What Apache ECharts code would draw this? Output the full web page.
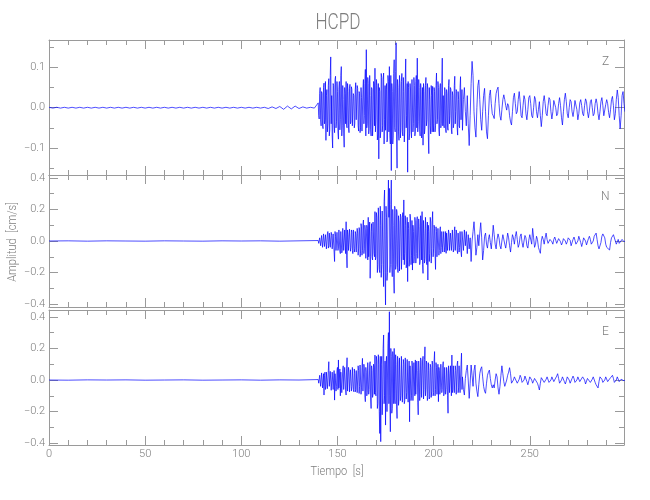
<!DOCTYPE html>
<html><head><meta charset="utf-8">
<script src="https://cdn.jsdelivr.net/npm/echarts@6/dist/echarts.min.js"></script>
<style>html,body{margin:0;padding:0;background:#fff}#c{width:650px;height:500px}</style>
</head><body><div id="c"></div><script>
const title = 'HCPD';
const xLabel = 'Tiempo  [s]';
const yLabel = 'Amplitud  [cm/s]';
const components = ['Z', 'N', 'E'];
const xMajorTicks = [0, 50, 100, 150, 200, 250];
const xMinorTicks = [10,20,30,40,60,70,80,90,110,120,130,140,160,170,180,190,210,220,230,240,260,270,280,290];
const zMajorTicks = [-0.1, 0, 0.1];
const zMinorTicks = [-0.15, -0.05, 0.05, 0.15];
const nMajorTicks = [-0.4, -0.2, 0, 0.2, 0.4];
const nMinorTicks = [-0.3, -0.1, 0.1, 0.3];
const eMajorTicks = [-0.4, -0.2, 0, 0.2, 0.4];
const eMinorTicks = [-0.3, -0.1, 0.1, 0.3];

const zPreStart = 0, zPreStep = 2;
const nePreStart = 0, nePreStep = 10;
const mainStart = 140, mainStep = 0.5;
const midStart = 140.25, midStep = 0.5;

// Z component, cm/s
const zPre = [0.001,-0.001,0.001,-0.001,0.001,-0.001,0.001,-0.001,0.001,-0.001,
0.001,-0.001,0.001,-0.001,0.001,-0.001,0.001,-0.001,0.001,-0.001,
0.001,-0.001,0.001,-0.001,0.001,-0.001,0.001,-0.001,0.001,-0.001,
0.001,-0.001,0.001,-0.001,0.001,-0.001,0.001,-0.001,0.001,-0.001,
0.001,-0.001,0.001,-0.001,0.001,-0.001,0.001,-0.001,0.001,-0.001,
0.001,-0.001,0.001,-0.001,0.001,-0.001,0.001,-0.002,0.002,-0.002,
0.003,-0.004,0.004,-0.003,0.004,-0.002,0.002,-0.001,0.001,-0.001];
const zMain = [
0.012,-0.028,0.050,-0.045,0.035,-0.052,0.061,-0.030,-0.081,0.045,-0.040,0.072,-0.055,0.126,0.030,-0.100,0.055,-0.062,0.078,-0.035,
0.040,-0.078,0.065,-0.030,0.102,-0.045,0.020,-0.098,0.035,0.065,-0.050,0.040,-0.062,0.058,-0.035,0.045,-0.048,0.030,-0.040,0.062,
-0.030,0.048,-0.058,0.035,-0.050,0.025,-0.055,0.070,-0.020,0.095,0.144,-0.040,0.060,-0.052,0.030,-0.070,0.045,-0.038,0.060,0.098,
-0.030,0.055,-0.065,-0.127,0.040,-0.060,0.075,-0.045,0.086,-0.030,-0.056,0.060,-0.080,0.065,0.102,-0.090,-0.156,0.040,-0.070,0.119,
-0.060,0.161,-0.150,0.050,-0.081,0.060,-0.050,0.085,-0.070,0.040,-0.055,0.121,-0.020,-0.160,0.050,-0.065,0.044,-0.075,0.070,-0.040,
0.055,-0.060,0.080,0.123,-0.035,0.050,-0.070,0.045,-0.060,-0.093,0.040,-0.050,0.075,-0.030,0.045,-0.114,0.020,-0.065,0.030,0.053,
-0.060,0.040,-0.045,0.086,-0.030,0.050,-0.070,0.060,-0.040,0.123,0.030,-0.050,0.040,-0.062,0.035,-0.056,0.070,-0.020,0.045,-0.065,
0.030,-0.040,0.078,-0.010,0.040,-0.068,0.020,-0.050,0.077,-0.030,-0.056,0.020,0.050,-0.010,-0.045,0.030,-0.040,-0.094,-0.020,0.060,
0.115,0.080,-0.010,-0.050,-0.073,0.000,0.055,0.069,0.020,-0.030,-0.056,-0.010,0.030,0.048,-0.010,-0.060,-0.077,-0.020,0.030,0.044,
0.010,-0.015,-0.020,-0.027,0.010,0.035,0.045,0.051,0.010,-0.020,-0.031,-0.005,0.020,0.032,0.020,0.005,-0.006,0.010,0.005,-0.020,
-0.035,-0.043,-0.010,0.025,0.036,0.010,-0.015,-0.010,0.020,0.040,0.015,-0.020,-0.025,0.005,0.030,0.020,-0.015,-0.030,-0.005,0.025,
0.030,0.010,-0.020,-0.025,0.000,0.028,0.020,-0.010,-0.025,-0.005,0.015,-0.020,-0.047,-0.020,0.015,0.030,0.010,-0.015,-0.020,0.005,
0.025,0.020,-0.010,-0.028,-0.010,0.018,0.022,0.000,-0.020,-0.015,0.010,0.025,0.005,-0.025,-0.043,-0.010,0.020,0.036,0.015,-0.015,
-0.025,0.000,0.020,0.015,-0.010,-0.022,-0.005,0.018,0.020,-0.005,-0.030,-0.015,0.012,0.020,0.005,-0.015,-0.020,0.005,0.022,0.015,
-0.010,-0.025,-0.008,0.015,0.020,0.000,-0.020,-0.015,0.010,0.022,0.010,-0.015,-0.030,-0.010,0.015,0.025,0.005,-0.020,-0.018,0.008,
0.020,0.010,-0.012,-0.025,-0.005,0.020,0.028,0.005,-0.030,-0.015,0.020,0.044,0.025,-0.020,-0.052,-0.020,0.030,0.040,0.010,-0.010];
const zMid = [
-0.020,0.035,-0.030,0.040,-0.045,0.050,-0.040,0.065,0.030,-0.060,0.055,-0.070,0.080,-0.040,-0.070,0.060,-0.045,0.070,-0.050,0.065,
-0.060,0.045,-0.055,0.080,-0.070,0.055,-0.065,0.050,-0.040,-0.045,0.060,-0.050,0.048,-0.040,0.052,-0.045,0.035,-0.050,0.045,-0.030,
0.055,-0.045,0.040,-0.062,0.050,-0.058,0.045,-0.040,0.060,-0.070,-0.050,0.075,-0.065,0.080,-0.055,0.050,-0.070,0.065,-0.045,-0.060,
0.070,-0.080,0.060,0.050,-0.075,0.085,-0.060,0.070,-0.090,0.055,0.045,-0.085,0.080,-0.060,-0.070,0.080,0.060,-0.090,0.085,-0.050,
0.090,-0.080,0.070,-0.060,0.080,-0.075,0.065,-0.060,0.075,-0.085,0.070,-0.050,0.060,0.065,-0.080,0.060,-0.055,0.070,-0.060,0.075,
-0.070,0.065,-0.050,-0.060,0.070,-0.055,0.060,-0.075,0.050,0.060,-0.065,0.055,-0.045,0.060,-0.070,0.050,-0.045,0.055,-0.060,-0.040,
0.050,-0.060,0.055,-0.040,0.065,-0.055,0.045,-0.050,0.060,-0.045,-0.040,0.050,-0.055,0.045,-0.050,0.055,-0.040,0.050,-0.055,0.040,
-0.050,0.055,-0.040,0.045,-0.050,0.040,-0.045,0.050,-0.030,0.045];

// N component, cm/s
const nPre = [0,0.001,-0.001,0.001,0,-0.001,0.001,0,-0.001,0.001,0,0.001,-0.001,0.001];
const nMain = [
0.003,-0.020,0.030,-0.025,0.040,-0.035,0.055,-0.045,0.030,-0.057,0.060,-0.030,0.045,-0.050,0.035,-0.060,0.040,-0.130,0.030,-0.050,
0.060,-0.045,0.070,-0.080,0.050,-0.060,0.085,-0.050,0.060,0.122,-0.170,0.040,-0.070,0.065,-0.040,0.055,-0.080,0.060,-0.050,0.045,
-0.060,0.050,-0.045,0.070,-0.080,0.090,-0.060,0.133,-0.050,0.070,-0.120,0.080,0.150,-0.090,-0.236,0.060,-0.100,0.120,-0.080,0.186,
-0.100,0.150,-0.150,0.120,-0.200,0.100,-0.150,0.200,-0.289,0.323,-0.405,0.150,-0.200,0.386,0.333,-0.150,0.386,-0.226,0.100,-0.331,
0.200,-0.150,0.180,-0.200,0.120,-0.180,0.150,-0.100,0.180,0.260,-0.080,0.100,-0.150,-0.257,0.080,-0.120,0.140,-0.090,-0.184,0.060,
-0.100,0.120,-0.080,0.154,-0.120,0.090,-0.130,0.100,0.186,-0.205,0.050,-0.110,0.080,-0.150,-0.247,0.060,-0.080,0.120,-0.050,0.186,
-0.050,0.080,-0.180,0.060,-0.090,0.070,-0.060,0.090,-0.040,0.060,-0.070,0.050,-0.040,-0.078,0.060,-0.050,0.045,-0.060,0.050,-0.065,
0.060,-0.050,0.090,-0.070,0.050,-0.080,0.060,-0.040,0.070,-0.100,0.050,-0.060,0.070,-0.030,0.060,-0.080,0.040,-0.050,0.020,-0.130,
0.000,0.060,0.122,0.030,-0.090,-0.040,0.040,-0.030,0.050,0.116,0.020,-0.120,-0.060,0.030,0.050,-0.020,-0.045,0.010,0.040,-0.010,
-0.050,0.020,0.100,0.040,-0.020,-0.050,0.010,0.045,0.020,-0.030,-0.050,0.000,0.040,0.030,-0.020,-0.045,0.000,0.050,0.020,-0.030,
-0.070,-0.010,0.040,0.020,-0.020,0.030,0.060,0.010,-0.040,-0.020,0.030,0.045,-0.010,-0.040,0.000,0.035,0.020,-0.030,-0.045,0.005,
0.040,0.030,-0.020,0.080,0.020,-0.040,-0.020,0.030,0.010,-0.040,-0.060,-0.078,0.000,0.030,0.010,-0.020,0.020,0.050,0.010,-0.015,
-0.020,0.010,0.020,-0.005,-0.020,0.010,0.025,0.005,-0.015,-0.010,0.015,0.020,-0.005,-0.025,-0.010,0.015,0.020,0.000,-0.020,-0.005,
0.020,0.030,0.005,-0.030,-0.020,0.010,0.025,0.005,-0.020,-0.030,0.000,0.030,0.020,-0.010,-0.035,-0.010,0.020,0.030,0.000,-0.025,
-0.015,0.015,0.030,0.010,-0.020,-0.030,0.000,0.030,0.040,0.050,0.010,-0.030,-0.050,-0.057,-0.010,0.030,0.045,0.053,0.020,-0.020,
-0.040,-0.030,-0.045,-0.057,-0.010,0.020,0.030,0.040,0.035,0.000,-0.020,-0.010,0.010,-0.015,-0.025,-0.010,0.010,0.005,-0.005,0.000];
const nMid = [
-0.015,0.020,-0.030,0.035,-0.040,0.045,-0.035,0.040,-0.050,0.045,-0.045,0.050,-0.040,0.055,-0.050,0.045,-0.070,0.060,-0.060,0.055,
-0.060,0.070,-0.065,0.060,-0.075,0.080,-0.060,0.070,-0.080,-0.090,0.070,-0.060,0.075,-0.065,0.070,-0.060,0.070,-0.070,0.060,-0.070,
0.080,-0.090,0.085,-0.100,0.110,-0.090,0.100,-0.080,0.100,-0.110,0.100,-0.120,-0.100,0.120,-0.100,0.110,-0.120,0.130,-0.100,-0.120,
0.180,-0.200,0.210,-0.180,0.220,-0.230,0.190,-0.150,0.250,-0.200,0.220,-0.250,0.200,0.150,-0.200,0.230,-0.150,0.200,-0.230,0.220,
-0.180,0.200,-0.170,0.160,-0.190,0.170,-0.180,0.150,-0.120,-0.150,0.160,-0.170,0.150,0.120,-0.160,0.170,-0.150,0.130,0.100,-0.140,
0.150,-0.140,0.130,-0.110,0.140,-0.150,0.160,-0.120,-0.150,0.130,-0.140,0.150,-0.130,0.120,0.100,-0.130,0.150,-0.140,0.120,-0.100,
0.100,-0.080,0.090,-0.100,0.080,-0.090,0.070,-0.080,0.060,-0.070,0.060,-0.070,0.060,0.050,-0.060,0.070,-0.060,0.050,-0.060,0.070,
-0.070,0.060,-0.060,0.070,-0.060,0.050,-0.070,0.060,-0.070,0.060];

// E component, cm/s
const ePre = [0,-0.001,0.001,0,0.001,-0.001,0,0.001,-0.001,0,0.001,-0.001,0.001,0];
const eMain = [
0.003,-0.025,0.030,-0.030,0.050,-0.040,-0.095,0.050,-0.040,0.060,-0.050,0.116,-0.030,0.050,-0.060,0.040,-0.070,-0.127,0.050,-0.040,
0.080,0.127,-0.050,-0.100,0.060,-0.070,0.090,-0.050,0.070,-0.095,0.141,-0.060,0.050,-0.080,0.060,-0.040,0.070,-0.074,0.040,-0.060,
0.050,-0.070,0.060,-0.040,0.090,-0.050,0.137,-0.060,0.070,-0.137,0.050,-0.080,0.100,-0.060,0.116,-0.180,0.060,-0.090,0.080,0.158,
-0.100,0.120,-0.150,0.100,-0.338,-0.390,0.150,-0.120,0.285,-0.100,-0.285,0.150,-0.200,0.300,0.432,-0.327,0.150,-0.180,0.120,0.200,
-0.150,0.100,-0.243,0.120,-0.120,0.150,-0.100,0.140,-0.150,0.100,-0.130,0.150,-0.080,0.120,-0.150,-0.264,0.080,-0.100,0.090,-0.120,
0.100,0.127,-0.080,0.060,-0.220,0.050,-0.090,0.120,-0.100,0.150,-0.060,0.210,-0.050,0.100,-0.110,0.060,-0.105,0.080,-0.070,0.100,
-0.080,0.180,-0.060,0.080,-0.100,-0.137,0.060,-0.050,0.090,-0.060,0.116,-0.084,0.070,-0.060,0.050,-0.210,0.040,-0.070,0.080,0.158,
-0.060,0.090,-0.080,0.060,-0.100,0.120,-0.050,0.080,-0.090,0.170,0.020,-0.060,-0.095,0.010,0.060,0.095,0.000,-0.116,-0.020,0.095,
0.030,-0.040,0.060,0.095,-0.020,-0.070,-0.105,-0.030,0.040,0.070,0.084,0.020,-0.040,-0.070,-0.084,-0.020,0.030,0.050,0.063,0.010,
-0.030,-0.050,-0.030,-0.050,0.000,0.040,0.020,-0.050,-0.090,-0.040,0.030,0.090,0.040,-0.010,-0.040,-0.045,0.000,0.030,0.050,0.078,
0.040,-0.020,-0.030,0.000,0.020,0.030,0.010,-0.020,-0.030,0.005,0.030,0.015,-0.015,-0.025,0.000,0.025,0.020,-0.010,-0.030,-0.005,
0.020,0.025,0.000,-0.020,-0.015,0.010,0.020,0.005,-0.020,-0.040,-0.063,-0.020,0.015,0.025,0.005,-0.015,-0.020,0.005,0.020,0.010,
-0.015,-0.020,0.000,0.020,0.015,-0.010,-0.020,0.000,0.025,0.040,0.010,-0.020,-0.025,0.000,0.020,0.015,-0.010,-0.025,-0.005,0.020,
0.025,0.000,-0.020,-0.015,0.010,0.025,0.010,-0.015,-0.025,0.000,0.020,0.015,-0.010,-0.020,0.000,0.020,0.025,0.000,-0.025,-0.015,
0.010,0.020,0.005,-0.015,-0.020,0.005,0.020,0.010,-0.015,-0.030,-0.040,-0.050,-0.010,0.020,0.025,0.005,-0.015,-0.020,0.000,0.020,
0.015,-0.010,-0.020,0.000,0.015,0.020,0.030,0.010,-0.015,-0.020,0.000,0.020,0.010,-0.010,-0.015,0.005,0.010,0.000,-0.005,0.000];
const eMid = [
-0.020,0.030,-0.040,0.045,-0.050,0.040,0.030,-0.060,0.050,-0.055,0.060,-0.040,0.055,-0.065,0.050,-0.060,0.060,0.040,-0.070,0.060,
-0.060,-0.050,0.070,0.050,-0.080,0.070,-0.060,0.080,-0.070,0.075,-0.070,0.080,-0.075,0.065,-0.070,0.080,-0.060,0.070,-0.075,0.060,
-0.080,0.090,-0.085,0.095,-0.090,0.080,-0.070,0.100,-0.100,0.080,-0.100,0.110,-0.090,0.100,-0.120,0.090,-0.110,0.100,-0.090,-0.080,
0.150,-0.180,0.160,-0.200,0.150,0.100,-0.220,0.200,-0.150,0.120,0.100,-0.200,0.230,-0.150,-0.100,0.200,-0.210,0.180,-0.150,-0.120,
0.160,-0.170,0.150,-0.160,0.140,-0.130,0.150,-0.140,0.130,-0.150,0.140,-0.120,0.130,-0.140,0.120,0.090,-0.130,0.120,-0.130,0.110,
-0.100,-0.090,0.120,-0.140,0.120,-0.130,0.140,-0.110,0.120,-0.120,0.130,-0.100,0.120,-0.130,0.110,-0.120,0.100,-0.110,0.120,-0.100,
0.120,-0.100,0.110,-0.090,0.100,0.080,-0.090,0.100,-0.080,0.090,-0.100,0.080,-0.090,0.080,-0.100,0.090,-0.080,0.090,-0.100,-0.080,
0.090,-0.080,0.090,-0.090,0.100,-0.080,0.090,-0.080,0.100,-0.060];

function samples(start, step, vals) { return vals.map((v, k) => [start + k * step, v]); }
function trace(pre, preStart, preStep, main, mid) {
  return samples(preStart, preStep, pre)
    .concat(samples(mainStart, mainStep, main), samples(midStart, midStep, mid))
    .sort((a, b) => a[0] - b[0]);
}
const traces = [
  trace(zPre, zPreStart, zPreStep, zMain, zMid),
  trace(nPre, nePreStart, nePreStep, nMain, nMid),
  trace(ePre, nePreStart, nePreStep, eMain, eMid)
];

const FONT = 'Roboto,"Liberation Sans",sans-serif';
const AXIS = '#9a9a9a', TXT = '#7d7d7d', TRACE = '#0000ff';
const X_MIN = 0, X_MAX = 299;
const ranges = [[-0.167, 0.168], [-0.418, 0.418], [-0.411, 0.443]];
const majors = [zMajorTicks, nMajorTicks, eMajorTicks];
const minors = [zMinorTicks, nMinorTicks, eMinorTicks];
const gridBox = [{top: 40, height: 135}, {top: 175, height: 132}, {top: 310, height: 135}];

const fmtY = v => (v < 0 ? '\u2212' : '') + Math.abs(v).toFixed(1);
const labStyle = {color: TXT, fontFamily: FONT, fontWeight: 300, fontSize: 11};
const grid = [], xAxis = [], yAxis = [], series = [];
gridBox.forEach((g, i) => {
  grid.push({left: 49, width: 575, top: g.top, height: g.height, containLabel: false});
  const base = {type: 'value', gridIndex: i, min: X_MIN, max: X_MAX, splitLine: {show: false}};
  const xi = xAxis.length;
  [['bottom', xMajorTicks, 9, true], ['bottom', xMinorTicks, 5, false], ['top', xMajorTicks, 9, true], ['top', xMinorTicks, 5, false]].forEach(([pos, ticks, len, line]) => {
    const showLab = (pos === 'bottom' && len === 9 && i === 2);
    xAxis.push(Object.assign({}, base, {
      position: pos,
      axisLine: {show: line, onZero: false, lineStyle: {color: AXIS, width: 1}},
      axisTick: {show: true, inside: true, length: len, customValues: ticks, lineStyle: {color: AXIS}},
      axisLabel: Object.assign({show: showLab, customValues: xMajorTicks, margin: 4}, labStyle)
    }));
  });
  const ybase = {type: 'value', gridIndex: i, min: ranges[i][0], max: ranges[i][1], splitLine: {show: false}};
  const yi = yAxis.length;
  [['left', majors[i], 9, true], ['left', minors[i], 5, false], ['right', majors[i], 9, true], ['right', minors[i], 5, false]].forEach(([pos, ticks, len, line]) => {
    const showLab = (pos === 'left' && len === 9);
    yAxis.push(Object.assign({}, ybase, {
      position: pos,
      axisLine: {show: line, onZero: false, lineStyle: {color: AXIS, width: 1}},
      axisTick: {show: true, inside: true, length: len, customValues: ticks, lineStyle: {color: AXIS}},
      axisLabel: Object.assign({show: showLab, customValues: majors[i], formatter: fmtY, margin: 4}, labStyle)
    }));
  });
  series.push({
    type: 'line', xAxisIndex: xi, yAxisIndex: yi, data: traces[i], showSymbol: false, symbol: 'none',
    lineStyle: {color: TRACE, width: 0.7}, silent: true, animation: false, clip: true
  });
});

const chart = echarts.init(document.getElementById('c'), null, {renderer: 'canvas'});
chart.setOption({
  animation: false,
  backgroundColor: '#ffffff',
  grid, xAxis, yAxis, series,
  graphic: [
    {type: 'text', x: 338, y: 12, scaleX: 0.78, style: {text: title, textAlign: 'center', fill: TXT, font: '300 22px ' + FONT}},
    {type: 'text', x: 337, y: 465, scaleX: 0.85, style: {text: xLabel, textAlign: 'center', fill: TXT, font: '300 13px ' + FONT}},
    {type: 'text', x: 6, y: 242, rotation: Math.PI / 2, scaleX: 0.85, style: {text: yLabel, textAlign: 'center', fill: TXT, font: '300 13px ' + FONT}},
    {type: 'text', x: 602, y: 56, style: {text: components[0], fill: TXT, font: '300 12px ' + FONT}},
    {type: 'text', x: 601, y: 191, style: {text: components[1], fill: TXT, font: '300 12px ' + FONT}},
    {type: 'text', x: 602, y: 326, style: {text: components[2], fill: TXT, font: '300 12px ' + FONT}}
  ]
});
</script></body></html>
